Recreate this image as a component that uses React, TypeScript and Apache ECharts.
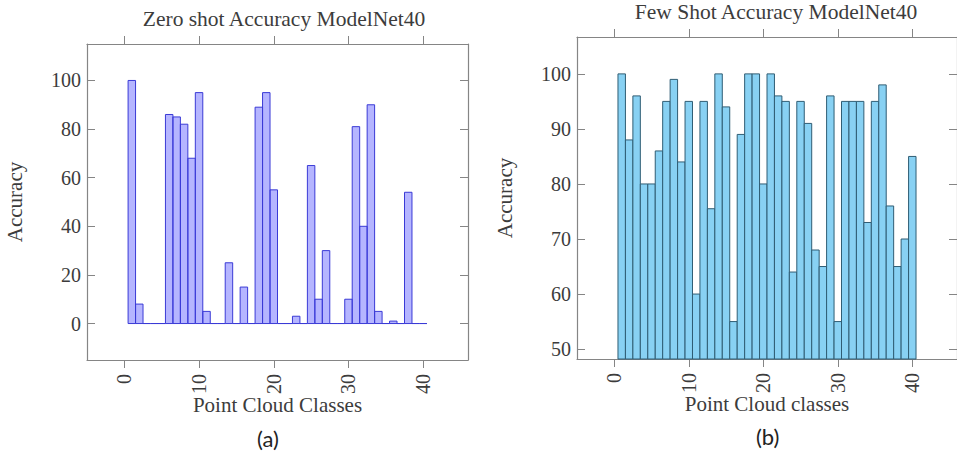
import React, { useEffect, useRef } from "react";
import * as echarts from "echarts";

const classes = [1,2,3,4,5,6,7,8,9,10,11,12,13,14,15,16,17,18,19,20,21,22,23,24,25,26,27,28,29,30,31,32,33,34,35,36,37,38,39,40];
const zeroShotAcc = [100,8,0,0,0,86,85,82,68,95,5,0,0,25,0,15,0,89,95,55,0,0,3,0,65,10,30,0,0,10,81,40,90,5,0,1,0,54,0,0];
const fewShotAcc = [100,88,96,80,80,86,95,99,84,95,60,95,75.5,100,94,55,89,100,100,80,100,96,95,64,95,91,68,65,96,55,95,95,95,73,95,98,76,65,70,85];
const xTicks = [0,10,20,30,40];
const yTicksA = [0,20,40,60,80,100];
const yTicksB = [50,60,70,80,90,100];

const SERIF = "'Liberation Serif', 'DejaVu Serif', serif";
const TXT = "#3c3c3c";
const FRAME = "#858585";

function barRenderer(base: number, fill: string, stroke: string) {
  return (params: any, api: any) => {
    const x = api.value(0);
    const y = api.value(1);
    const top = api.coord([x, y]);
    const bot = api.coord([x, base]);
    const w = api.size([1, 0])[0];
    return {
      type: "rect",
      shape: { x: top[0] - w / 2, y: top[1], width: w, height: bot[1] - top[1] },
      style: { fill, stroke, lineWidth: 1 },
    };
  };
}

function xAxes(gridIndex: number, name: string) {
  const common = {
    gridIndex,
    type: "value",
    min: -5,
    max: 46,
    splitLine: { show: false },
    axisLine: { show: true, onZero: false, lineStyle: { color: FRAME, width: 1.2 } },
  };
  return [
    {
      ...common,
      position: "bottom",
      name,
      nameLocation: "middle",
      nameGap: 34,
      nameMoveOverlap: false,
      nameTextStyle: { fontFamily: SERIF, fontSize: 21, color: TXT, verticalAlign: "top" },
      axisTick: { show: true, inside: false, length: 8, customValues: xTicks, lineStyle: { color: FRAME } },
      axisLabel: { show: true, customValues: xTicks, rotate: 90, margin: 14, fontFamily: SERIF, fontSize: 20, color: TXT },
    },
    {
      ...common,
      position: "top",
      axisTick: { show: true, inside: false, length: 8, customValues: xTicks, lineStyle: { color: FRAME } },
      axisLabel: { show: false },
    },
  ];
}

function yAxes(gridIndex: number, min: number, max: number, ticks: number[], nameGap: number) {
  const common = {
    gridIndex,
    type: "value",
    min,
    max,
    splitLine: { show: false },
    axisLine: { show: true, onZero: false, lineStyle: { color: FRAME, width: 1.2 } },
  };
  return [
    {
      ...common,
      position: "left",
      name: "Accuracy",
      nameLocation: "middle",
      nameGap,
      nameRotate: 90,
      nameTextStyle: { fontFamily: SERIF, fontSize: 21, color: TXT },
      axisTick: { show: true, inside: true, length: 8, customValues: ticks, lineStyle: { color: FRAME } },
      axisLabel: { show: true, customValues: ticks, margin: 6, fontFamily: SERIF, fontSize: 20, color: TXT },
    },
    {
      ...common,
      position: "right",
      axisTick: { show: true, inside: true, length: 8, customValues: ticks, lineStyle: { color: FRAME } },
      axisLabel: { show: false },
    },
  ];
}

export default function App() {
  const ref = useRef<HTMLDivElement>(null);
  useEffect(() => {
    if (!ref.current) return;
    const chart = echarts.init(ref.current, null, { renderer: "svg" });
    const option: any = {
      animation: false,
      backgroundColor: "#ffffff",
      title: [
        { text: "Zero shot Accuracy ModelNet40", left: 279, top: 3, textAlign: "center", textStyle: { fontFamily: SERIF, fontSize: 21.5, fontWeight: "normal", color: TXT } },
        { text: "Few Shot Accuracy ModelNet40", left: 771, top: -4, textAlign: "center", textStyle: { fontFamily: SERIF, fontSize: 21.5, fontWeight: "normal", color: TXT } },
      ],
      grid: [
        { left: 87, top: 44, width: 381, height: 316 },
        { left: 577, top: 37, width: 388, height: 322 },
      ],
      xAxis: [...xAxes(0, "Point Cloud Classes"), ...xAxes(1, "Point Cloud classes")],
      yAxis: [...yAxes(0, -15, 115, yTicksA, 62), ...yAxes(1, 48.2, 106.7, yTicksB, 62)],
      series: [
        {
          type: "custom",
          xAxisIndex: 0,
          yAxisIndex: 0,
          renderItem: barRenderer(0, "rgba(70,70,255,0.4)", "#3a3ad6"),
          encode: { x: 0, y: 1 },
          data: classes.map((c, i) => [c, zeroShotAcc[i]]),
        },
        {
          type: "custom",
          xAxisIndex: 2,
          yAxisIndex: 2,
          renderItem: barRenderer(48.2, "#88d1f3", "#2f5d74"),
          encode: { x: 0, y: 1 },
          data: classes.map((c, i) => [c, fewShotAcc[i]]),
        },
      ],
      graphic: [
        { type: "text", left: 257, top: 427, style: { text: "(a)", font: "22px Lato, 'Open Sans', sans-serif", fill: "#222" } },
        { type: "text", left: 756, top: 425, style: { text: "(b)", font: "22px Lato, 'Open Sans', sans-serif", fill: "#222" } },
      ],
    };
    chart.setOption(option);
    return () => chart.dispose();
  }, []);
  return <div ref={ref} style={{ position: "fixed", left: 0, top: 0, width: 957, height: 455 }} />;
}
